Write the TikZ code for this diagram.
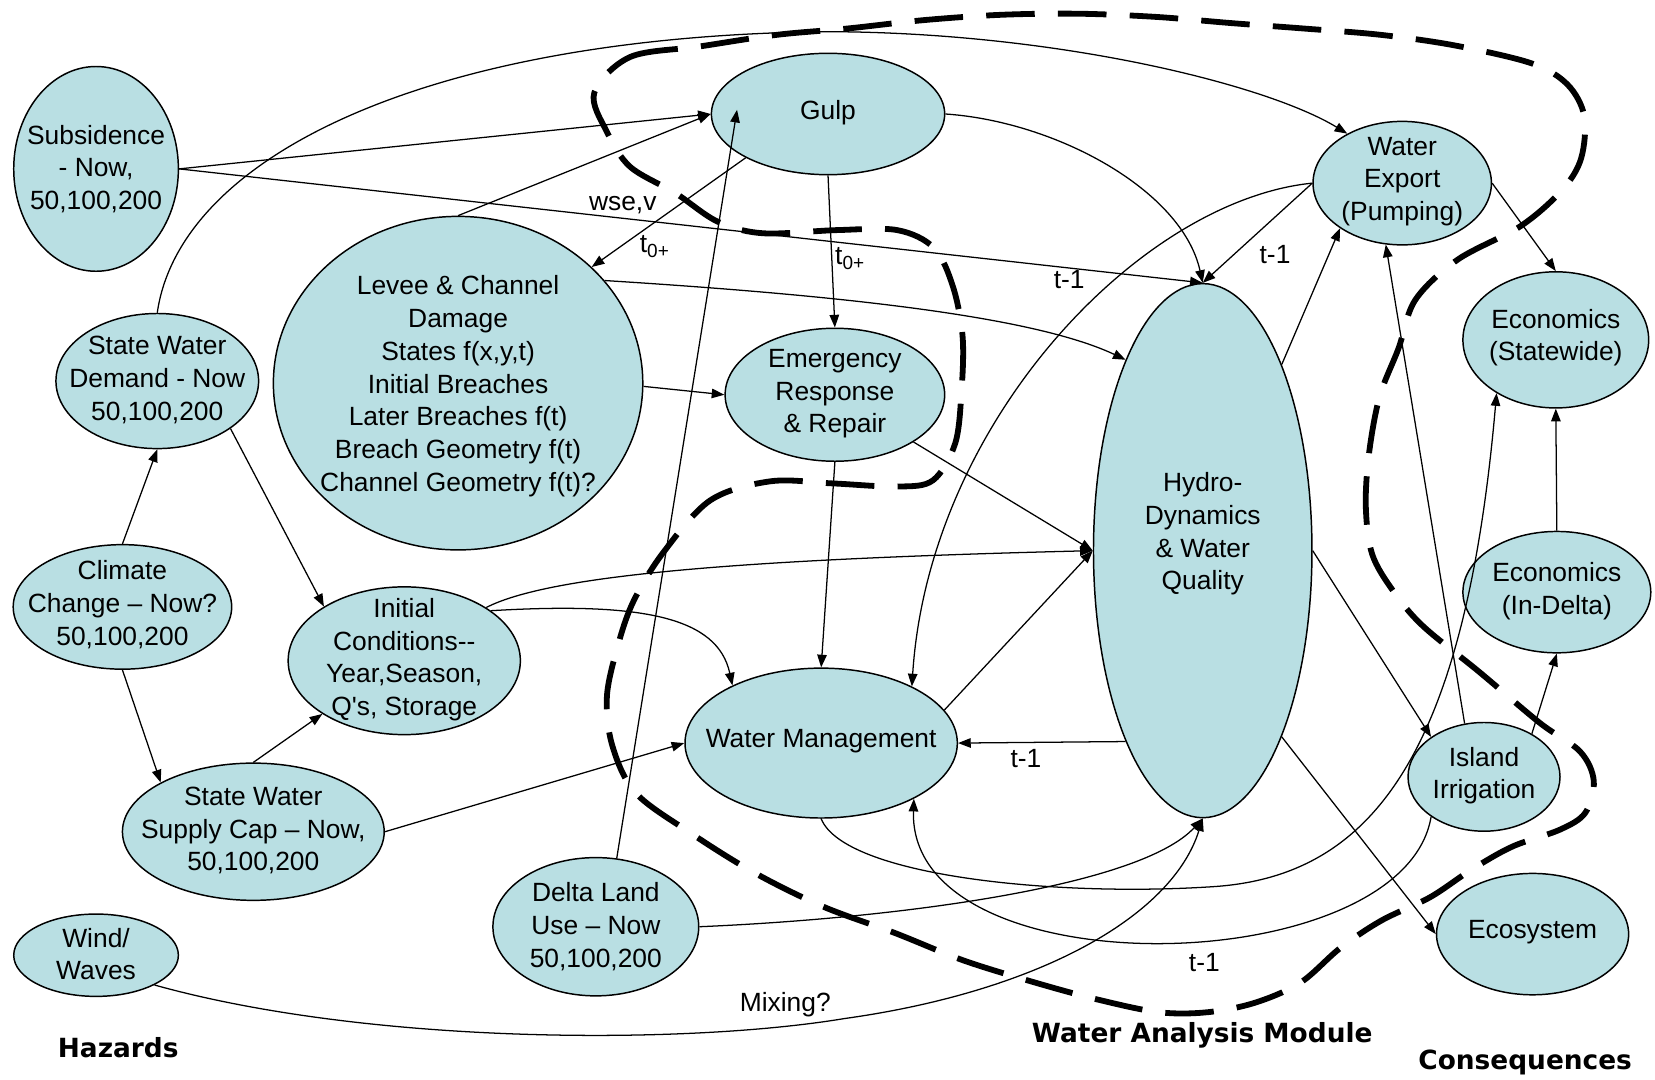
\documentclass[tikz,border=0pt]{standalone}
\usepackage{fontspec}
\setmainfont{Liberation Sans}[Ligatures=TeXOff]
\newfontfamily\labfont{DejaVu Sans}
\usetikzlibrary{shapes.geometric,arrows.meta}
\definecolor{nodefill}{RGB}{185,223,227}
\newcommand{\tsub}{t\raisebox{-0.35ex}{\fontsize{18}{18}\selectfont 0+}}
\begin{document}
\begin{tikzpicture}[x=1pt,y=1pt,
  every node/.style={font=\fontsize{25}{31}\selectfont},
  ell/.style={ellipse,draw,line width=1.4pt,fill=nodefill,inner sep=0pt},
  txt/.style={align=center,inner sep=0pt},
  conn/.style={line width=1.2pt},
  arr/.style={conn,-{Triangle[length=12pt,width=9pt]}},
  lab/.style={inner sep=0pt},
  big/.style={inner sep=0pt,font=\labfont\bfseries\fontsize{25}{30}\selectfont},
  module/.style={line width=5.5pt,dash pattern=on 46pt off 22pt}
]
\fill[white] (0,0) rectangle (1568,-1023);
\useasboundingbox (0,0) rectangle (1568,-1023);

% ellipses
\node[ell,minimum width=156,minimum height=194] (subs) at (91,-160) {};
\node[ell,minimum width=192,minimum height=128] (swd) at (149,-361) {};
\node[ell,minimum width=207,minimum height=118] (cc) at (116,-575) {};
\node[ell,minimum width=248,minimum height=130] (swsc) at (240,-788) {};
\node[ell,minimum width=156,minimum height=78] (ww) at (91,-905) {};
\node[ell,minimum width=350,minimum height=316] (lev) at (434,-363) {};
\node[ell,minimum width=220,minimum height=140] (ic) at (383,-626) {};
\node[ell,minimum width=195,minimum height=131] (dlu) at (564.5,-878) {};
\node[ell,minimum width=221,minimum height=115] (gulp) at (784.5,-108) {};
\node[ell,minimum width=208,minimum height=126] (err) at (791,-374) {};
\node[ell,minimum width=258,minimum height=142] (wm) at (778,-704) {};
\node[ell,minimum width=207,minimum height=506] (hyd) at (1139.5,-521.7) {};
\node[ell,minimum width=169,minimum height=117] (wex) at (1328.5,-173.5) {};
\node[ell,minimum width=176,minimum height=129] (econS) at (1474,-322) {};
\node[ell,minimum width=178,minimum height=115] (econD) at (1475,-561) {};
\node[ell,minimum width=144,minimum height=103] (isl) at (1406,-736) {};
\node[ell,minimum width=182,minimum height=115] (eco) at (1452,-885) {};

% texts
\node[txt] (subs-t) at (91,-160) {Subsidence\\- Now,\\50,100,200};
\node[txt] (swd-t) at (149,-360) {State Water\\Demand - Now\\50,100,200};
\node[txt] (cc-t) at (116,-573) {Climate\\Change – Now?\\50,100,200};
\node[txt] (swsc-t) at (240,-787) {State Water\\Supply Cap – Now,\\50,100,200};
\node[txt] (ww-t) at (91,-904) {Wind/\\Waves};
\node[txt] (lev-t) at (434,-366) {Levee \& Channel\\Damage\\States f(x,y,t)\\Initial Breaches\\Later Breaches f(t)\\Breach Geometry f(t)\\Channel Geometry f(t)?};
\node[txt] (ic-t) at (383,-625) {Initial\\Conditions--\\Year,Season,\\Q's, Storage};
\node[txt] (dlu-t) at (564.5,-878) {Delta Land\\Use – Now\\50,100,200};
\node[txt] (gulp-t) at (784.5,-107) {Gulp};
\node[txt] (err-t) at (791,-373) {Emergency\\Response\\\& Repair};
\node[txt] (wm-t) at (778,-702) {Water Management};
\node[txt] (hyd-t) at (1139.5,-506) {Hydro-\\Dynamics\\\& Water\\Quality};
\node[txt] (wex-t) at (1328.5,-172) {Water\\Export\\(Pumping)};
\node[txt] (econS-t) at (1474,-320) {Economics\\(Statewide)};
\node[txt] (econD-t) at (1475,-560) {Economics\\(In-Delta)};
\node[txt] (isl-t) at (1406,-735) {Island\\Irrigation};
\node[txt] (eco-t) at (1452,-883) {Ecosystem};

% connectors
\draw[arr] (subs.east) -- (gulp.west);
\draw[arr] (subs.east) -- (hyd.north);
\draw[arr] (swd.north) .. controls (170,-150) and (400,-35) .. (780,-30) .. controls (1000,-30) and (1200,-80) .. (wex.138);
\draw[arr] (gulp.east) .. controls (1000,-115) and (1120,-180) .. (hyd.north);
\draw[arr] (gulp.south) -- (err.north);
\draw[arr] (gulp.208) -- (lev.41);
\draw[arr] (lev.north) -- (gulp.west);
\draw[arr] (dlu.73) -- ([xshift=25pt,yshift=4pt]gulp.west);
\draw[arr] (lev.35) .. controls (800,-280) and (980,-300) .. (hyd.112);
\draw[arr] (lev.-1) -- (err.west);
\draw[arr] (err.-31) -- (hyd.west);
\draw[arr] (err.south) -- (wm.north);
\draw[arr] (ic.33) .. controls (520,-545) and (700,-530) .. (hyd.west);
\draw[arr] (ic.30) .. controls (610,-570) and (680,-585) .. (wm.147);
\draw[arr] (swd.-33) -- (ic.146);
\draw[arr] (cc.north) -- (swd.south);
\draw[arr] (cc.south) -- (swsc.152);
\draw[arr] (swsc.north) -- (ic.213);
\draw[arr] (swsc.east) -- (wm.west);
\draw[arr] (wm.15) -- (hyd.west);
\draw[arr] (hyd.248) -- (wm.east);
\draw[arr] (wm.south) .. controls (800,-830) and (1000,-850) .. (1150,-840) .. controls (1300,-830) and (1388,-715) .. (econS.222);
\draw[arr] (dlu.east) .. controls (850,-870) and (1080,-840) .. (hyd.south);
\draw[arr] (ww.-27) .. controls (350,-990) and (650,-990) .. (800,-965) .. controls (980,-940) and (1110,-870) .. (hyd.south);
\draw[arr] (isl.217) .. controls (1330,-930) and (860,-940) .. (wm.-31);
\draw[arr] (wex.west) -- (hyd.north);
\draw[arr] (wex.west) .. controls (1080,-190) and (880,-400) .. (wm.32);
\draw[arr] (hyd.67) -- (wex.216);
\draw[arr] (wex.east) -- (econS.north);
\draw[arr] (econD.north) -- (econS.south);
\draw[arr] (isl.110) -- (wex.255);
\draw[arr] (isl.42) -- (econD.south);
\draw[arr] (hyd.east) -- (isl.143);
\draw[arr] (hyd.-67.5) -- (eco.west);

% connector labels
\node[lab] (l-wse) at (590,-194) {wse,v};
\node[lab] (l-t0a) at (620,-234) {\tsub};
\node[lab] (l-t0b) at (805,-245) {\tsub};
\node[lab] (l-t1a) at (1013,-265) {t-1};
\node[lab] (l-t1b) at (1208,-241) {t-1};
\node[lab] (l-t1c) at (972,-719) {t-1};
\node[lab] (l-t1d) at (1141,-912) {t-1};
\node[lab] (l-mix) at (744,-952) {Mixing?};

% module boundary
\draw[module] plot[smooth cycle, tension=0.55] coordinates {
(563,-88) (597,-54) (663,-44) (736,-33) (803,-27) (876,-19) (949,-14) (1022,-13)
(1095,-16) (1168,-22) (1235,-27) (1308,-33) (1378,-43) (1451,-60) (1485,-80)
(1501,-110) (1498,-150) (1480,-180) (1441,-214) (1381,-246) (1341,-284) (1325,-330)
(1307,-376) (1297,-430) (1294,-480) (1300,-525) (1320,-560) (1348,-593) (1402,-637)
(1459,-685) (1497,-712) (1510,-740) (1502,-770) (1478,-786) (1433,-802) (1394,-824)
(1355,-850) (1309,-872) (1270,-898) (1232,-931) (1189,-950) (1144,-959) (1098,-959)
(1040,-947) (981,-931) (913,-910) (848,-884) (780,-859) (715,-827) (654,-789)
(602,-751) (580,-706) (575,-660) (585,-613) (600,-570) (628,-524) (673,-474)
(730,-456) (789,-458) (850,-461) (884,-455) (905,-420) (911,-370) (912,-319)
(903,-272) (885,-235) (850,-218) (793,-218) (723,-221) (680,-210) (640,-183)
(597,-158) (575,-125)};

% region titles
\node[big] (h-haz) at (112,-993) {Hazards};
\node[big] (h-wam) at (1139,-981) {Water Analysis Module};
\node[big] (h-con) at (1445,-1007) {Consequences};
\end{tikzpicture}
\end{document}
